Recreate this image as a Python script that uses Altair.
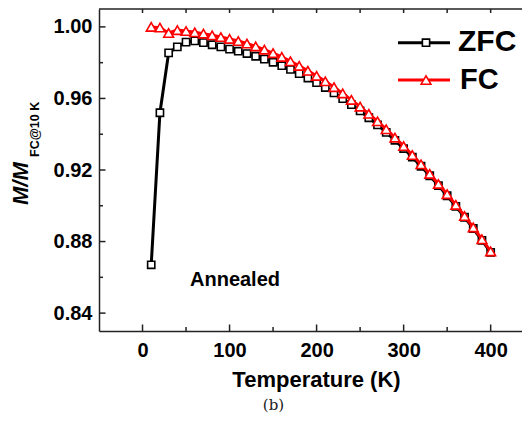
import altair as alt
import pandas as pd

temps = list(range(10, 401, 10))
zfc = [0.8670, 0.9520, 0.9855, 0.9888, 0.9915, 0.9922, 0.9912, 0.9900, 0.9888, 0.9876,
       0.9864, 0.9851, 0.9836, 0.9820, 0.9802, 0.9783, 0.9762, 0.9739, 0.9714, 0.9688,
       0.9661, 0.9631, 0.9599, 0.9565, 0.9530, 0.9492, 0.9452, 0.9410, 0.9366, 0.9320,
       0.9272, 0.9221, 0.9168, 0.9113, 0.9056, 0.8997, 0.8936, 0.8873, 0.8807, 0.8740]
fc = [1.0000, 0.9996, 0.9966, 0.9982, 0.9977, 0.9970, 0.9962, 0.9953, 0.9943, 0.9933,
      0.9921, 0.9907, 0.9891, 0.9873, 0.9853, 0.9832, 0.9808, 0.9782, 0.9755, 0.9726,
      0.9696, 0.9663, 0.9628, 0.9592, 0.9554, 0.9514, 0.9472, 0.9428, 0.9381, 0.9334,
      0.9284, 0.9232, 0.9178, 0.9122, 0.9065, 0.9005, 0.8943, 0.8879, 0.8813, 0.8745]
x_major = [0, 100, 200, 300, 400]
x_minor = [50, 150, 250, 350]
y_major = [0.84, 0.88, 0.92, 0.96, 1.00]
y_minor = [0.86, 0.90, 0.94, 0.98]

W, H = 423, 322
FONT = "Liberation Sans"
AX = "#222222"

xs = alt.Scale(domain=[-50, 436], nice=False, zero=False)
ys = alt.Scale(domain=[0.83, 1.01], nice=False, zero=False)

x_axis = alt.Axis(values=x_major, title=None, ticks=False, grid=False,
                  labelFont=FONT, labelFontSize=20, labelFontWeight="bold",
                  labelColor="black", labelPadding=9,
                  domainColor=AX, domainWidth=1.5)
y_axis = alt.Axis(values=y_major, title=None, ticks=False, grid=False, format=".2f",
                  labelFont=FONT, labelFontSize=20, labelFontWeight="bold",
                  labelColor="black", labelPadding=7,
                  domainColor=AX, domainWidth=1.5)

X = alt.X("T:Q", scale=xs, axis=x_axis)
Y = alt.Y("M:Q", scale=ys, axis=y_axis)

zfc_df = pd.DataFrame({"T": temps, "M": zfc})
fc_df = pd.DataFrame({"T": temps, "M": fc})
one = pd.DataFrame({"a": [0]})

SQ, TRI = 52, 95

layers = []

# ticks (inward)
layers.append(alt.Chart(pd.DataFrame({"T": x_major})).mark_rule(color=AX, strokeWidth=1.5)
              .encode(x=X, y=alt.value(H), y2=alt.value(H - 6.5)))
layers.append(alt.Chart(pd.DataFrame({"T": x_minor})).mark_rule(color=AX, strokeWidth=1.5)
              .encode(x=X, y=alt.value(H), y2=alt.value(H - 4)))
layers.append(alt.Chart(pd.DataFrame({"T": x_major + x_minor})).mark_rule(color=AX, strokeWidth=1.5)
              .encode(x=X, y=alt.value(0), y2=alt.value(4)))
layers.append(alt.Chart(pd.DataFrame({"M": y_major})).mark_rule(color=AX, strokeWidth=1.5)
              .encode(y=Y, x=alt.value(0), x2=alt.value(6.5)))
layers.append(alt.Chart(pd.DataFrame({"M": y_minor})).mark_rule(color=AX, strokeWidth=1.5)
              .encode(y=Y, x=alt.value(0), x2=alt.value(4)))
# top border
layers.append(alt.Chart(one).mark_rule(color=AX, strokeWidth=1.5)
              .encode(x=alt.value(0), x2=alt.value(W), y=alt.value(0)))

# data
layers.append(alt.Chart(zfc_df).mark_line(color="black", strokeWidth=3).encode(x=X, y=Y))
layers.append(alt.Chart(zfc_df).mark_point(shape="square", size=SQ, filled=True, fill="white",
                                            stroke="black", strokeWidth=1.6, opacity=1)
              .encode(x=X, y=Y))
layers.append(alt.Chart(fc_df).mark_line(color="#ff0000", strokeWidth=3).encode(x=X, y=Y))
layers.append(alt.Chart(fc_df).mark_point(shape="triangle-up", size=TRI, filled=True, fill="white",
                                           stroke="#ff0000", strokeWidth=1.6, opacity=1)
              .encode(x=X, y=Y))

# legend
layers.append(alt.Chart(one).mark_rule(color="black", strokeWidth=3)
              .encode(x=alt.value(299), x2=alt.value(351), y=alt.value(33.7)))
layers.append(alt.Chart(one).mark_point(shape="square", size=SQ, filled=True, fill="white",
                                         stroke="black", strokeWidth=1.6, opacity=1)
              .encode(x=alt.value(327), y=alt.value(33.7)))
layers.append(alt.Chart(one).mark_text(text="ZFC", font=FONT, fontSize=30, fontWeight="bold",
                                        align="left", baseline="alphabetic", color="black")
              .encode(x=alt.value(359), y=alt.value(42)))
layers.append(alt.Chart(one).mark_rule(color="#ff0000", strokeWidth=3)
              .encode(x=alt.value(299), x2=alt.value(351), y=alt.value(71)))
layers.append(alt.Chart(one).mark_point(shape="triangle-up", size=TRI, filled=True, fill="white",
                                         stroke="#ff0000", strokeWidth=1.6, opacity=1)
              .encode(x=alt.value(327), y=alt.value(71)))
layers.append(alt.Chart(one).mark_text(text="FC", font=FONT, fontSize=29, fontWeight="bold",
                                        align="left", baseline="alphabetic", color="black")
              .encode(x=alt.value(361), y=alt.value(79.5)))

# annotations and titles
layers.append(alt.Chart(one).mark_text(text="Annealed", font=FONT, fontSize=20, fontWeight="bold",
                                        align="left", baseline="alphabetic", color="black")
              .encode(x=alt.value(91), y=alt.value(277)))
layers.append(alt.Chart(one).mark_text(text="Temperature (K)", font=FONT, fontSize=22, fontWeight="bold",
                                        align="center", baseline="alphabetic", color="black")
              .encode(x=alt.value(217.5), y=alt.value(378)))
layers.append(alt.Chart(one).mark_text(text="M/M", font=FONT, fontSize=22, fontWeight="bold",
                                        fontStyle="italic", angle=270,
                                        align="left", baseline="alphabetic", color="black")
              .encode(x=alt.value(-71.5), y=alt.value(196)))
layers.append(alt.Chart(one).mark_text(text="FC@10 K", font=FONT, fontSize=12.5, fontWeight="bold",
                                        angle=270, align="left", baseline="alphabetic", color="black")
              .encode(x=alt.value(-60), y=alt.value(148)))
layers.append(alt.Chart(one).mark_text(text="(b)", font="DejaVu Serif", fontSize=15,
                                        align="center", baseline="alphabetic", color="#222")
              .encode(x=alt.value(174.5), y=alt.value(401)))

chart = alt.layer(*layers).properties(
    width=W, height=H,
    padding={"left": 91, "top": 1, "right": 0, "bottom": 83},
    autosize=alt.AutoSizeParams(type="none"),
    background="white",
).configure_view(strokeOpacity=0)

chart.save("out.html", embed_options={"renderer": "svg", "actions": False})
